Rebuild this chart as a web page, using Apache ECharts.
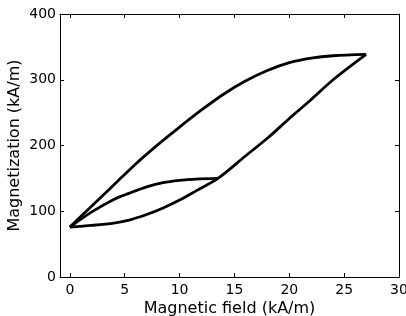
<!DOCTYPE html>
<html>
<head>
<meta charset="utf-8">
<script src="https://cdn.jsdelivr.net/npm/echarts@6/dist/echarts.min.js"></script>
<style>
    html, body { margin: 0; padding: 0; background: #fff; }
    #chart { width: 406px; height: 316px; }
</style>
</head>
<body>
<div id="chart"></div>
<script>
// field (kA/m), magnetization (kA/m)
const upperField = [0, 2, 4, 6, 8, 10, 12, 14, 16, 18, 20, 22, 24, 27]
const upperMag = [76, 108, 140, 172, 201, 228, 254, 278, 298, 314, 326, 333, 336.5, 338.5]

const lowerField = [0, 2, 4, 5.5, 7, 8.5, 10, 11.5, 13.5, 16, 18, 20, 22, 24, 27]
const lowerMag = [76, 78.5, 82, 87, 95, 105, 117, 131, 150, 184, 211, 241, 270, 300, 338.5]

const minorField = [0, 2, 4, 5.5, 7, 8.5, 10, 11.5, 13.5]
const minorMag = [76, 99, 118, 128, 137, 143.5, 147, 149, 150]

const xTicks = [0, 5, 10, 15, 20, 25, 30]

const font = 'DejaVu Sans'

const pairs = (xs, ys) => xs.map((x, i) => [x, ys[i]])

const lineSeries = (data) => ({
    type: 'line',
    data: data,
    symbol: 'none',
    smooth: 0.3,
    lineStyle: { color: '#000', width: 2.8 },
    silent: true,
})

const boxAxis = {
    axisLine: { show: true, onZero: false, lineStyle: { color: '#000', width: 1 } },
    splitLine: { show: false },
}

const chart = echarts.init(document.getElementById('chart'))

chart.setOption({
    animation: false,
    grid: { left: 60, right: 7, top: 14, bottom: 39, outerBoundsMode: 'none', containLabel: false },
    xAxis: [
        {
            ...boxAxis,
            type: 'value',
            min: -0.9,
            max: 30,
            position: 'bottom',
            name: 'Magnetic field (kA/m)',
            nameLocation: 'middle',
            nameGap: 24,
            nameMoveOverlap: false,
            nameTextStyle: { fontFamily: font, fontSize: 16, color: '#000' },
            axisTick: { inside: true, length: 4, customValues: xTicks, lineStyle: { color: '#000' } },
            axisLabel: { customValues: xTicks, margin: 6, fontFamily: font, fontSize: 14, color: '#000' },
        },
        {
            ...boxAxis,
            type: 'value',
            min: -0.9,
            max: 30,
            position: 'top',
            axisTick: { inside: true, length: 4, customValues: xTicks, lineStyle: { color: '#000' } },
            axisLabel: { show: false },
        },
    ],
    yAxis: [
        {
            ...boxAxis,
            type: 'value',
            min: 0,
            max: 400,
            interval: 100,
            position: 'left',
            name: 'Magnetization (kA/m)',
            nameLocation: 'middle',
            nameGap: 37,
            nameMoveOverlap: false,
            nameTextStyle: { fontFamily: font, fontSize: 16, color: '#000' },
            axisTick: { inside: true, length: 4, lineStyle: { color: '#000' } },
            axisLabel: { margin: 4, fontFamily: font, fontSize: 14, color: '#000' },
        },
        {
            ...boxAxis,
            type: 'value',
            min: 0,
            max: 400,
            interval: 100,
            position: 'right',
            axisTick: { inside: true, length: 4, lineStyle: { color: '#000' } },
            axisLabel: { show: false },
        },
    ],
    series: [
        lineSeries(pairs(upperField, upperMag)),
        lineSeries(pairs(lowerField, lowerMag)),
        lineSeries(pairs(minorField, minorMag)),
    ],
})
</script>
</body>
</html>
